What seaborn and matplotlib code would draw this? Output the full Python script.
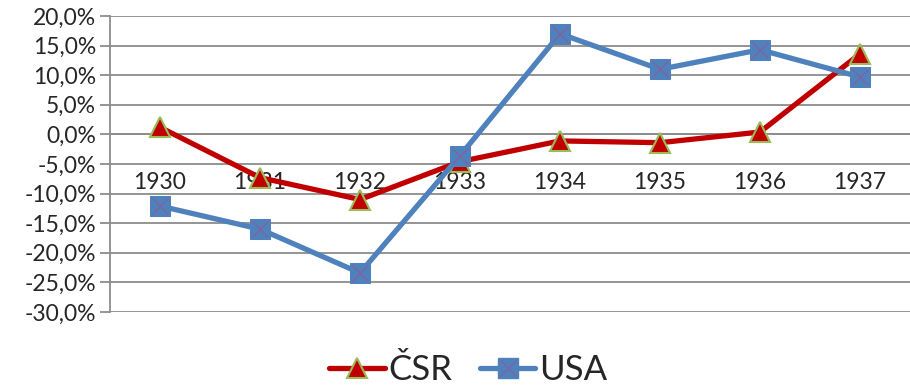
#!/usr/bin/env python

import pandas as pd
import seaborn as sns
import matplotlib.pyplot as plt
from matplotlib.ticker import FuncFormatter, FixedLocator
from matplotlib.lines import Line2D

# Data (annual change, %)
years = ['1930', '1931', '1932', '1933', '1934', '1935', '1936', '1937']
csr = [1.2, -7.3, -11.0, -4.6, -1.1, -1.4, 0.4, 13.6]
usa = [-12.1, -16.0, -23.4, -3.6, 17.0, 11.0, 14.3, 9.7]

df = pd.DataFrame({'pos': list(range(len(years))) * 2,
                   'val': csr + usa,
                   'series': ['ČSR'] * len(years) + ['USA'] * len(years)})

sns.set_style('white')
plt.rcParams['font.family'] = ['Lato', 'DejaVu Sans']

fig = plt.figure(figsize=(9.1, 3.92), dpi=100)
ax = fig.add_axes([110 / 910, 1 - 312 / 392, 800 / 910, 296 / 392])

red, blue = '#C00000', '#4F81BD'
lw = 3.8

sns.lineplot(data=df[df.series == 'ČSR'], x='pos', y='val', ax=ax, color=red,
             linewidth=lw, marker='^', markersize=14, markerfacecolor=red,
             markeredgecolor='#9BBB59', markeredgewidth=1.5, zorder=3)
sns.lineplot(data=df[df.series == 'USA'], x='pos', y='val', ax=ax, color=blue,
             linewidth=lw, marker='s', markersize=14, markerfacecolor=blue,
             markeredgecolor=blue, zorder=4)
ax.plot(range(len(years)), usa, linestyle='none', marker='x', markersize=12,
        color='#8064A2', markeredgewidth=1.0, zorder=5)

ax.set_ylim(-30, 20)
ax.set_xlim(-0.5, 7.4)
ax.yaxis.set_major_locator(FixedLocator(range(-30, 21, 5)))
ax.yaxis.set_major_formatter(FuncFormatter(lambda v, p: f'{v:.1f}%'.replace('.', ',')))
ax.grid(axis='y', color='#8C8C8C', linewidth=1.3)
ax.set_axisbelow(True)

# category axis crossing at zero
ax.spines['bottom'].set_position(('data', 0))
ax.spines['bottom'].set_color('#8C8C8C')
ax.spines['bottom'].set_linewidth(1.3)
ax.spines['left'].set_color('#8C8C8C')
ax.spines['left'].set_linewidth(1.3)
ax.spines['top'].set_visible(False)
ax.spines['right'].set_visible(False)

ax.set_xticks(range(len(years)))
ax.set_xticklabels(years)
ax.set_xticks([i - 0.5 for i in range(len(years) + 1)], minor=True)
ax.tick_params(axis='x', which='major', length=0, pad=27, labelsize=16.5)
ax.tick_params(axis='x', which='minor', length=8, width=1.3, color='#8C8C8C', direction='out')
ax.tick_params(axis='y', length=7, width=1.3, color='#8C8C8C', direction='out', labelsize=16.5, pad=3, left=True)
ax.set_xlabel('')
ax.set_ylabel('')

h_csr = Line2D([], [], color=red, linewidth=lw, marker='^', markersize=14,
               markerfacecolor=red, markeredgecolor='#9BBB59', markeredgewidth=1.5)
h_usa = Line2D([], [], color=blue, linewidth=lw, marker='s', markersize=14,
               markerfacecolor=blue, markeredgecolor=blue)
h_x = Line2D([], [], linestyle='none', marker='x', markersize=12, color='#8064A2')
fig.legend([h_csr, (h_usa, h_x)], ['ČSR', 'USA'], loc='center',
           bbox_to_anchor=(468 / 910, 1 - 370 / 392), ncol=2, frameon=False,
           fontsize=25, handlelength=1.6, handletextpad=0.1, columnspacing=0.8,
           borderpad=0)

fig.savefig('out.png', dpi=100)
